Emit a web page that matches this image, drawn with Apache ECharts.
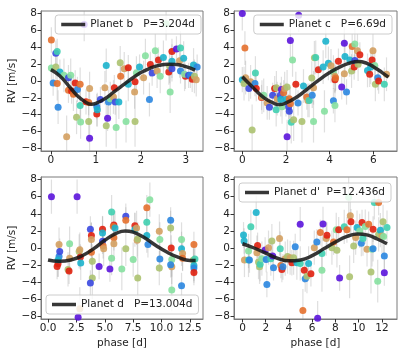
<!DOCTYPE html>
<html>
<head>
<meta charset="utf-8">
<script src="https://cdn.jsdelivr.net/npm/echarts@6/dist/echarts.min.js"></script>
<style>
  html, body { margin: 0; padding: 0; background: #fff; }
  #chart { width: 407px; height: 356px; }
</style>
</head>
<body>
<div id="chart"></div>
<script>
// colour index = time order of the observation (0 oldest .. 9 newest)
const palette = ['#5b14dc', '#3a48e0', '#2a86e0', '#1cb2cc', '#40cfb0', '#86e0a0', '#acc270', '#d4a060', '#e4702e', '#e0200e'];

const planetNames = ['Planet b   P=3.204d', 'Planet c   P=6.69d', 'Planet d   P=13.004d', "Planet d'  P=12.436d"];

const xRanges = [[-0.22, 3.38], [-0.38, 7.08], [-0.62, 13.65], [-0.73, 13.3]];
const xTicks = [[0, 1, 2, 3], [0, 2, 4, 6], [0, 2.5, 5, 7.5, 10, 12.5], [0, 2, 4, 6, 8, 10, 12]];
const yTicks = [-8, -6, -4, -2, 0, 2, 4, 6, 8];

// model curves [phase, rv]
const modelB = [[0, 1.35], [0.2, 0.6], [0.4, -0.6], [0.6, -1.8], [0.8, -2.6], [0.9, -2.75], [1.0, -2.65], [1.2, -2.1], [1.4, -1.3], [1.6, -0.5], [1.8, 0.3], [2.0, 1.0], [2.2, 1.5], [2.4, 1.85], [2.6, 2.0], [2.8, 1.95], [3.0, 1.7], [3.204, 1.3]];
const modelC = [[0, 0.5], [0.5, -0.8], [1.0, -2.0], [1.5, -2.7], [1.7, -2.8], [2.0, -2.6], [2.5, -1.9], [3.0, -0.9], [3.5, 0.1], [4.0, 1.0], [4.5, 1.7], [5.0, 2.2], [5.3, 2.3], [5.7, 2.1], [6.0, 1.7], [6.4, 1.0], [6.69, 0.45]];
const modelD = [[0, -1.4], [1, -1.55], [2, -1.4], [3, -0.9], [4, -0.1], [5, 0.9], [6, 1.7], [6.8, 2.0], [7.5, 1.85], [8.5, 1.2], [9.5, 0.3], [10.5, -0.5], [11.5, -1.1], [12.5, -1.45], [13.004, -1.45]];
const modelD2 = [[0, 0.5], [1, 0.0], [2, -0.6], [3, -1.2], [4, -1.5], [5, -1.4], [6, -0.9], [7, -0.1], [8, 0.7], [9, 1.35], [9.9, 1.65], [10.8, 1.5], [11.6, 1.05], [12.436, 0.5]];

// observations [phase, rv, colour index, error]
const obsB = [
  [0.01, 4.86, 8, 1.5], [0.01, 1.53, 5, 1.5], [0.11, 3.3, 1, 1.5], [0.14, 3.5, 4, 1.5], [0.11, 1.65, 6, 1.5],
  [0.05, -0.24, 2, 1.5], [0.14, -0.3, 8, 2], [0.16, -3.1, 2, 2], [0.2, 1.06, 3, 1.5], [0.29, 0.67, 5, 2],
  [0.35, -6.6, 7, 2.5], [0.39, 0.4, 1, 1.5], [0.44, 0.67, 5, 2], [0.39, -1.1, 8, 1.5], [0.46, -1.2, 9, 1.5],
  [0.5, -1.57, 8, 2], [0.54, -0.24, 9, 1.5], [0.59, -1.0, 2, 1.5], [0.57, -4.3, 6, 2], [0.65, -2.9, 4, 2],
  [0.66, -4.86, 5, 2], [0.65, -0.4, 8, 2], [0.78, -2.47, 9, 1.5], [0.86, -0.9, 7, 2], [0.84, -2.55, 8, 1.5],
  [0.84, -4.8, 6, 2.5], [0.86, -6.8, 0, 2], [1.02, -3.9, 9, 1.5], [1.02, -3.05, 2, 1.5], [1.03, -3.4, 3, 2],
  [1.1, -2.2, 1, 1.5], [1.2, -0.8, 7, 2], [1.23, 1.84, 3, 2], [1.23, -5.3, 6, 2.5], [1.26, -4.43, 0, 1.5],
  [1.28, -2.5, 2, 1.5], [1.32, -2.1, 5, 2], [1.39, -1.9, 7, 2], [1.41, -0.8, 9, 1.5], [1.43, -2.5, 1, 1.5],
  [1.45, -5.5, 5, 2.5], [1.51, -2.5, 3, 2], [1.54, 2.16, 6, 2], [1.55, 0.55, 8, 1.5], [1.63, 1.45, 7, 2],
  [1.72, 1.57, 9, 1.5], [1.72, -0.4, 3, 2], [1.67, -4.8, 5, 2.5], [1.87, -0.1, 9, 1.5], [1.86, -1.3, 7, 2],
  [1.87, -4.8, 6, 3], [1.9, 0.94, 5, 2], [1.97, 1.65, 3, 1.5], [2.06, 0.4, 7, 2], [2.1, 3.0, 5, 2],
  [2.21, 1.96, 9, 1.5], [2.19, -2.2, 2, 2], [2.25, 0.94, 1, 1.5], [2.32, 3.6, 5, 2], [2.36, 1.18, 7, 2],
  [2.43, 0.55, 5, 2], [2.39, 2.5, 9, 1.5], [2.5, 2.8, 3, 2], [2.56, 6.8, 5, 2], [2.62, 1.06, 9, 1.5],
  [2.64, 1.73, 6, 2], [2.65, -1.3, 5, 2.5], [2.69, 3.5, 9, 1.5], [2.69, 2.35, 3, 2], [2.69, 1.45, 1, 1.5],
  [2.79, 3.8, 0, 1.5], [2.86, 2.4, 7, 2], [2.88, 3.9, 4, 2], [2.88, 1.2, 2, 1.5], [2.95, 2.7, 3, 2],
  [2.99, 0.55, 9, 1.5], [2.97, 0.8, 5, 2], [3.06, 0.67, 1, 1.5], [3.1, 0.67, 2, 1.5], [3.14, 0.2, 9, 1.5],
  [3.17, 1.9, 3, 2], [3.19, 0.55, 6, 2], [3.23, 0.15, 7, 2], [3.25, 1.65, 2, 1.5], [0.74, 6.7, 0, 2]
];
const obsC = [
  [0, 8.0, 0, 2], [0.12, 3.9, 8, 2], [0, 0.16, 3, 1.5], [0.08, -0.3, 6, 2], [0.15, 0.4, 7, 2],
  [0.3, -0.9, 1, 1.5], [0.38, -0.1, 7, 2], [0.45, -5.8, 6, 3], [0.58, -0.3, 2, 1.5], [0.6, 0.94, 4, 2],
  [0.64, -0.9, 9, 1.5], [0.88, -1.96, 9, 1.5], [0.9, -1.9, 7, 2], [0.98, -1.7, 5, 2], [1.14, -2.6, 7, 2],
  [1.24, -3.1, 1, 1.5], [1.39, -1.7, 1, 1.5], [1.48, -0.9, 9, 1.5], [1.56, -0.8, 6, 2], [1.55, -3.4, 4, 2],
  [1.6, -2.1, 7, 2], [1.74, -1.7, 1, 1.5], [1.79, -1.0, 0, 1.5], [1.76, -2.2, 3, 2], [1.82, -3.06, 5, 2],
  [1.89, -1.4, 8, 1.5], [1.94, -0.9, 7, 2], [2.0, -2.2, 3, 2], [2.05, -0.7, 6, 2], [2.05, -6.6, 0, 2],
  [2.2, 4.8, 0, 2], [2.12, -3.06, 1, 1.5], [2.15, -3.6, 1, 1.5], [2.15, -2.1, 8, 1.5], [2.2, -2.7, 8, 2],
  [2.24, -4.9, 4, 2.5], [2.3, 2.5, 5, 2], [2.35, -4.6, 6, 2.5], [2.45, -0.4, 9, 1.5], [2.55, -2.6, 2, 1.5],
  [2.58, 7.8, 0, 2], [2.73, -4.8, 6, 2.5], [2.8, -0.6, 3, 2], [2.95, -1.9, 8, 1.5], [3.0, -2.3, 7, 2],
  [3.06, -2.3, 4, 2], [3.18, 0.35, 6, 2], [3.2, -1.7, 2, 1.5], [3.26, -4.8, 5, 2.5], [3.26, -0.8, 7, 2],
  [3.3, 2.75, 6, 2], [3.36, 2.8, 4, 2], [3.48, 1.33, 9, 1.5], [3.7, 1.65, 3, 2], [3.76, -3.6, 5, 2.5],
  [3.82, 4.7, 3, 2], [3.94, 2.1, 3, 2], [4.06, 1.8, 7, 2], [4.17, -2.35, 2, 1.5], [4.17, 1.06, 5, 2],
  [4.24, 0.55, 7, 2], [4.24, 0.16, 9, 1.5], [4.27, 0.35, 8, 1.5], [4.4, 2.35, 9, 1.5], [4.24, -2.9, 5, 2],
  [4.55, -0.7, 0, 1.5], [4.67, 0.86, 7, 2], [4.67, 4.47, 0, 2], [4.7, 2.9, 3, 2], [4.77, -1.3, 2, 1.5],
  [4.92, 2.5, 3, 2], [5.0, 1.18, 6, 2], [5.03, 4.1, 8, 1.5], [5.12, 1.65, 9, 1.5], [5.15, 4.4, 5, 2],
  [5.15, 2.43, 1, 1.5], [5.27, 3.6, 7, 2], [5.3, 2.0, 6, 2], [5.38, 3.1, 9, 1.5], [5.73, 1.25, 3, 2],
  [5.83, 0.8, 9, 1.5], [5.88, 1.65, 3, 2], [5.94, 2.5, 9, 1.5], [5.98, 3.6, 7, 2], [6.06, 1.84, 5, 2],
  [6.09, -0.4, 6, 2], [6.2, 0.4, 2, 1.5], [6.24, 0.0, 9, 1.5], [6.5, -0.4, 4, 2], [6.6, 0.8, 7, 2]
];
const obsD = [
  [0.3, 6.0, 0, 2], [0.88, -1.85, 9, 1.5], [0.97, -1.0, 2, 1.5], [1.03, -0.4, 1, 1.5], [0.97, 0.4, 7, 2],
  [0.88, -1.4, 3, 2], [0.8, -2.15, 9, 1.5], [1.76, -2.5, 6, 2], [1.85, -2.7, 9, 1.5], [1.9, 0.5, 5, 2],
  [1.9, -1.2, 7, 2], [2.56, 6.0, 0, 2], [2.65, -8.1, 0, 2], [2.8, -7.1, 7, 2.5], [2.74, -0.4, 6, 2],
  [2.8, -0.2, 7, 2], [2.85, -1.05, 9, 1.5], [2.88, -1.75, 3, 2], [3.73, 2.2, 1, 1.5], [3.82, 1.45, 9, 1.5],
  [3.82, 1.0, 7, 2], [3.82, -0.5, 8, 1.5], [3.9, -1.55, 6, 2], [3.9, -3.5, 6, 2.5], [3.73, -4.1, 1, 1.5],
  [4.5, -2.15, 0, 1.5], [4.8, 2.2, 9, 1.5], [4.8, 1.75, 3, 2], [4.8, 0.8, 1, 1.5], [4.85, 0.27, 8, 1.5],
  [4.9, -0.1, 7, 2], [5.6, -1.2, 5, 2], [5.45, -2.45, 0, 1.5], [5.6, 4.2, 4, 2], [5.8, 2.7, 9, 1.5],
  [5.75, 2.5, 8, 1.5], [5.8, 1.2, 8, 1.5], [5.8, 0.5, 7, 2], [5.9, 2.35, 3, 2], [6.5, -2.45, 5, 2.5],
  [6.85, 3.7, 1, 1.5], [6.85, 3.25, 8, 1.5], [6.85, -0.1, 6, 2], [7.5, -1.35, 5, 2], [7.65, 2.6, 9, 1.5],
  [7.65, 2.15, 3, 2], [7.8, 2.35, 7, 2], [7.85, 0.9, 7, 2], [7.9, 1.05, 6, 2], [7.9, -3.5, 6, 2.5],
  [8.7, 4.7, 8, 1.5], [8.7, 3.0, 4, 2], [8.7, 1.45, 3, 2], [8.8, 0.4, 2, 1.5], [8.97, 5.65, 5, 2],
  [9.8, 1.95, 7, 2], [9.85, 1.0, 5, 2], [9.8, -2.35, 6, 2], [9.85, -1.3, 2, 1.5], [10.8, 3.25, 2, 1.5],
  [10.8, 2.35, 6, 2], [10.85, 0.0, 9, 1.5], [10.9, -1.35, 5, 2], [10.9, -2.2, 7, 2], [10.9, -4.9, 5, 2.5],
  [10.8, -1.95, 2, 1.5], [11.76, 1.0, 5, 2], [11.76, -0.1, 3, 2], [11.76, -4.4, 2, 1.5], [11.85, -0.65, 7, 2],
  [11.85, -1.2, 8, 1.5], [12.85, 0.4, 8, 1.5], [12.8, -1.4, 6, 2], [12.85, -2.05, 3, 2], [12.85, -2.35, 2, 1.5],
  [12.85, -2.85, 9, 1.5], [12.94, -1.3, 4, 2]
];
const obsD2 = [
  [0.09, 1.53, 3, 1.5], [0.14, 0.82, 3, 1.5], [0.17, -1.4, 7, 2], [0.52, -0.35, 5, 2], [0.52, -1.4, 4, 2],
  [0.6, -1.4, 2, 1.5], [0.72, 2.47, 4, 2], [1.18, 4.15, 3, 2], [1.3, 0.3, 9, 1.5], [1.24, -0.55, 7, 2],
  [1.38, -1.65, 6, 2], [1.47, -2.2, 6, 2], [1.52, -1.9, 4, 2], [1.67, -1.25, 5, 2], [1.95, -0.24, 0, 1.5],
  [2.04, -1.33, 2, 1.5], [2.1, -4.27, 2, 1.5], [2.24, 0.04, 7, 2], [2.44, -1.25, 4, 2], [2.53, 0.82, 6, 2],
  [2.6, -0.94, 0, 1.5], [2.67, -2.3, 2, 1.5], [3.19, 1.1, 7, 2], [3.25, -0.08, 4, 2], [3.3, -2.04, 8, 1.5],
  [3.39, -2.5, 9, 1.5], [3.48, -2.2, 2, 1.5], [3.68, -1.25, 7, 2], [3.88, -1.0, 6, 2], [4.1, -1.14, 7, 2],
  [4.25, -1.72, 9, 1.5], [4.4, -1.14, 6, 2], [4.54, 0.16, 2, 1.5], [4.68, -1.72, 3, 2], [4.97, 2.78, 0, 2],
  [4.97, -1.8, 4, 2], [5.2, -7.3, 8, 2.5], [5.32, -2.6, 9, 1.5], [5.4, -3.6, 2, 1.5], [5.55, -3.3, 6, 2],
  [5.69, -1.8, 3, 2], [5.89, -3.0, 9, 1.5], [6.18, 0.04, 7, 2], [6.4, 0.7, 2, 1.5], [6.47, -8.2, 0, 2],
  [6.7, 1.8, 8, 1.5], [6.84, -0.63, 4, 2], [6.84, -2.6, 5, 2.5], [6.93, 2.82, 0, 2], [7.21, 1.1, 7, 2],
  [7.27, 1.5, 9, 1.5], [7.7, 0.04, 6, 2], [7.84, 0.7, 8, 1.5], [8.07, 2.12, 5, 2], [8.13, -0.27, 6, 2],
  [8.28, 2.12, 9, 1.5], [8.36, -3.5, 0, 1.5], [8.76, 2.47, 4, 2], [8.99, 2.12, 8, 1.5], [9.14, 5.92, 5, 2.5],
  [9.22, -3.37, 6, 2.5], [9.28, 3.76, 7, 2], [9.34, 3.06, 9, 1.5], [9.57, 0.24, 6, 2], [9.74, 1.22, 7, 2],
  [9.86, 2.39, 3, 2], [10.09, 2.0, 5, 2], [10.23, 0.55, 2, 1.5], [10.29, 2.98, 9, 1.5], [10.37, 1.1, 4, 2],
  [10.57, 2.5, 5, 2], [10.72, -0.16, 7, 2], [10.86, 2.78, 8, 1.5], [11.06, -2.82, 6, 2.5], [11.15, -0.16, 5, 2],
  [11.24, -0.08, 2, 1.5], [11.24, 2.2, 9, 1.5], [11.35, 5.33, 4, 2], [11.64, -3.88, 5, 2.5], [11.72, 1.6, 6, 2],
  [11.72, 5.33, 8, 1.5], [11.87, 2.08, 3, 2], [12.01, 1.41, 7, 2], [12.1, 3.06, 6, 2], [12.15, 1.33, 5, 2],
  [12.21, -0.94, 2, 1.5], [12.21, -2.9, 0, 1.5], [12.44, 2.39, 4, 2]
];

const observations = [obsB, obsC, obsD, obsD2];
const models = [modelB, modelC, modelD, modelD2];

const grids = [
  { left: 41, top: 11, width: 162, height: 140 },
  { left: 234, top: 11, width: 163, height: 140 },
  { left: 41, top: 177, width: 162, height: 142 },
  { left: 234, top: 177, width: 163, height: 142 }
];
const legendPos = [
  { right: 206, top: 15 },
  { right: 15, top: 15 },
  { left: 46, top: 295 },
  { left: 239, top: 183 }
];

const font = 'DejaVu Sans';
const frame = '#7a7a7a';

const xAxes = grids.map((g, i) => ({
  type: 'value', gridIndex: i, min: xRanges[i][0], max: xRanges[i][1],
  name: i >= 2 ? 'phase [d]' : '', nameLocation: 'middle', nameGap: 19,
  nameTextStyle: { fontFamily: font, fontSize: 10.5, color: '#222' },
  axisLine: { show: true, onZero: false, lineStyle: { color: frame } },
  axisTick: { show: true, length: 3.5, customValues: xTicks[i], lineStyle: { color: '#333' } },
  axisLabel: {
    customValues: xTicks[i], margin: 4, fontFamily: font, fontSize: 10.5, color: '#222',
    formatter: v => (i === 2 ? v.toFixed(1) : String(v)).replace('-', '\u2212')
  },
  splitLine: { show: false }
}));
const yAxes = grids.map((g, i) => ({
  type: 'value', gridIndex: i, min: -8.3, max: 8.3,
  name: i % 2 === 0 ? 'RV [m/s]' : '', nameLocation: 'middle', nameGap: 22,
  nameTextStyle: { fontFamily: font, fontSize: 10.5, color: '#222' },
  axisLine: { show: true, onZero: false, lineStyle: { color: frame } },
  axisTick: { show: true, length: 3.5, customValues: yTicks, lineStyle: { color: '#333' } },
  axisLabel: {
    customValues: yTicks, margin: 4, fontFamily: font, fontSize: 10.5, color: '#222',
    formatter: v => String(v).replace('-', '\u2212')
  },
  splitLine: { show: false }
}));

const series = [];
observations.forEach((obs, i) => {
  series.push({
    type: 'custom', xAxisIndex: i, yAxisIndex: i, data: obs, z: 1, clip: true, silent: true,
    renderItem: (params, api) => {
      const x = api.value(0), y = api.value(1), e = api.value(3);
      const a = api.coord([x, y - e]), b = api.coord([x, y + e]);
      return {
        type: 'line',
        shape: { x1: a[0], y1: a[1], x2: b[0], y2: b[1] },
        style: { stroke: 'rgba(150,150,150,0.3)', lineWidth: 1.2 }
      };
    }
  });
  series.push({
    type: 'scatter', xAxisIndex: i, yAxisIndex: i, data: obs, z: 2, symbolSize: 7,
    itemStyle: { color: p => palette[p.value[2]], opacity: 0.9 }
  });
  series.push({
    type: 'line', name: planetNames[i], xAxisIndex: i, yAxisIndex: i, data: models[i], z: 3,
    smooth: true, showSymbol: false, color: 'rgba(20,20,20,0.85)',
    lineStyle: { width: 3.5, color: 'rgba(20,20,20,0.85)' }
  });
});

const legends = planetNames.map((n, i) => Object.assign({
  data: [n], icon: 'rect', itemWidth: 24, itemHeight: 3.5, itemGap: 6,
  padding: [4, 6, 4, 6], backgroundColor: 'rgba(255,255,255,0.8)',
  borderColor: '#cccccc', borderWidth: 1, borderRadius: 3, z: 10,
  selectedMode: false,
  textStyle: { fontFamily: font, fontSize: 10.5, color: '#222' }
}, legendPos[i]));

const chart = echarts.init(document.getElementById('chart'));
chart.setOption({
  animation: false,
  backgroundColor: '#fff',
  grid: grids.map(g => Object.assign({ show: true, borderColor: frame, borderWidth: 1 }, g)),
  xAxis: xAxes,
  yAxis: yAxes,
  legend: legends,
  series: series
});
</script>
</body>
</html>
